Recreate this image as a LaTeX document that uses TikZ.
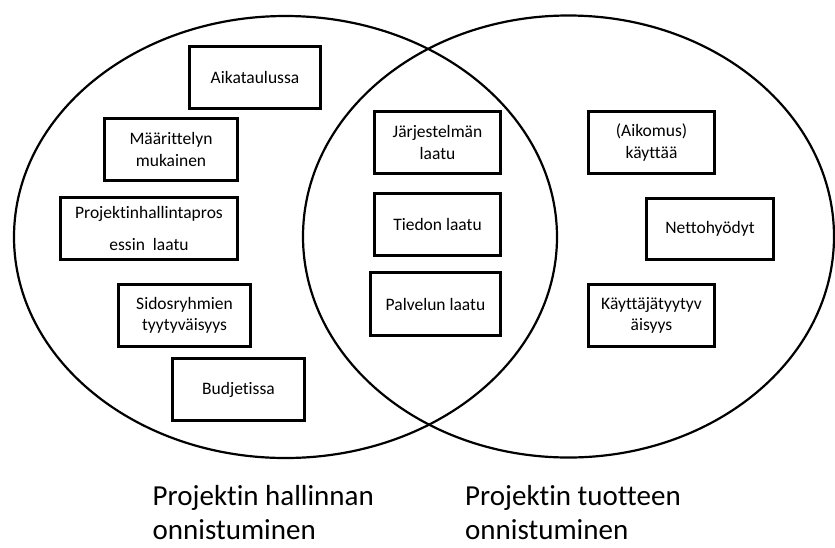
\documentclass[tikz,border=0pt]{standalone}
\usepackage{fontspec}
\setmainfont{Carlito}[Ligatures={NoCommon}]
\usetikzlibrary{shapes.geometric}
\begin{document}
\begin{tikzpicture}[x=1pt,y=-1pt,
  circ/.style={draw, ellipse, line width=2.2pt, inner sep=0pt},
  box/.style={draw, fill=white, line width=2.6pt, inner sep=0pt, align=center,
    minimum height=62.5pt, font=\fontsize{17.5}{21.5}\selectfont},
  lab/.style={inner sep=0pt, align=left, anchor=base west, font=\fontsize{29}{34}\selectfont}]
\useasboundingbox (0,0) rectangle (835,547);
\node[circ, minimum width=543pt, minimum height=442pt] (L) at (285.5,237) {};
\node[circ, minimum width=531pt, minimum height=442pt] (R) at (568.5,236.5) {};
% left set
\node[box, minimum width=131pt] (a1) at (255,77.5) {Aikataulussa};
\node[box, minimum width=133pt] (a2) at (171,149.5) {Määrittelyn\\mukainen};
\node[box, minimum width=177pt, font=\fontsize{17.5}{32.6}\selectfont] (a3) at (149,228.5) {Projektinhallintapros\\essin\ \ laatu};
\node[box, minimum width=132pt] (a4) at (184.5,315.5) {Sidosryhmien\\tyytyväisyys};
\node[box, minimum width=132pt] (a5) at (238.5,389.5) {Budjetissa};
% intersection
\node[box, minimum width=126pt] (b1) at (437.5,142.5) {Järjestelmän\\laatu};
\node[box, minimum width=126pt] (b2) at (437.5,224.5) {Tiedon laatu};
\node[box, minimum width=130pt, minimum height=63pt] (b3) at (435.5,304) {Palvelun laatu};
% right set
\node[box, minimum width=126pt] (c1) at (651.5,142.5) {(Aikomus)\\käyttää};
\node[box, minimum width=127pt, minimum height=61.5pt] (c2) at (710,229) {Nettohyödyt};
\node[box, minimum width=126pt] (c3) at (651.5,315.5) {Käyttäjätyytyv\\äisyys};
% captions
\node[lab] (t1) at (152.5,539) {Projektin hallinnan\\onnistuminen};
\node[lab] (t2) at (465,539) {Projektin tuotteen\\onnistuminen};
\end{tikzpicture}
\end{document}
